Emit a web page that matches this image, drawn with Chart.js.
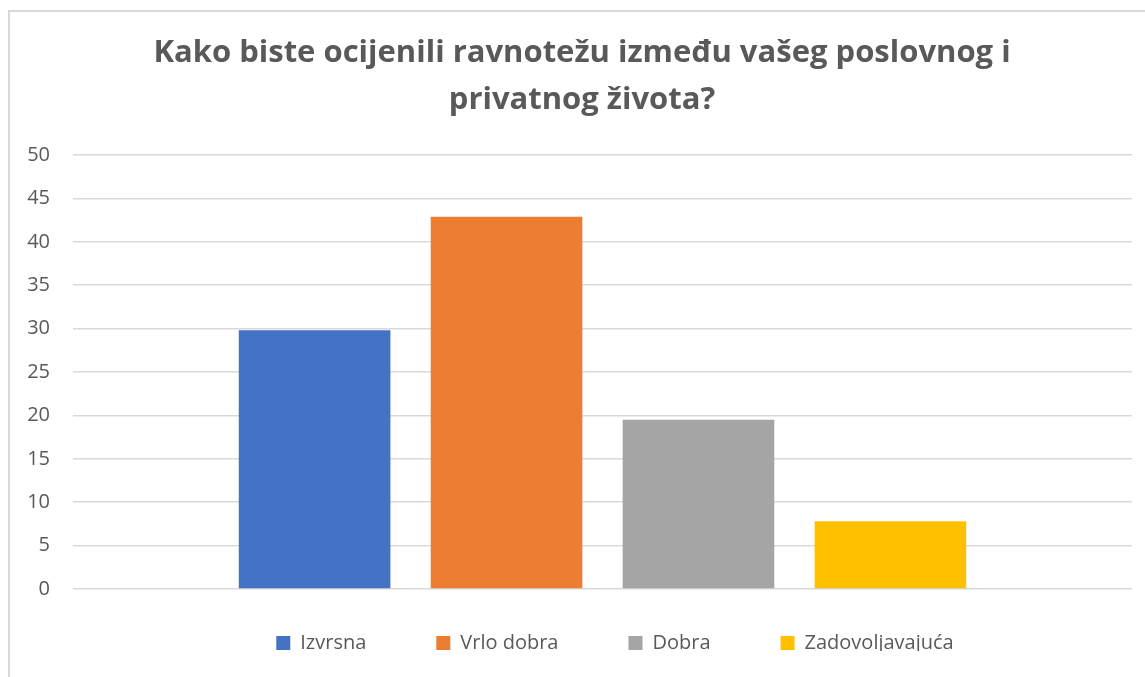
<!DOCTYPE html>
<html lang="hr">
<head>
<meta charset="utf-8">
<style>
    body { margin: 0; background: #ffffff; }
    #frame { position: absolute; left: 8px; top: 10px; width: 1160px; height: 700px; border: 2px solid #d9d9d9; }
    #wrap { position: absolute; left: 0; top: 0; width: 1145px; height: 677px; }
</style>
</head>
<body>
<div id="frame"></div>
<div id="wrap">
    <canvas id="myChart"></canvas>
</div>
<script src="https://cdn.jsdelivr.net/npm/chart.js"></script>
<script>
    // podaci sa slike (postotci)
    const categories = [''];
    const seriesNames = ['Izvrsna', 'Vrlo dobra', 'Dobra', 'Zadovoljavajuća'];
    const izvrsna = [29.8];
    const vrloDobra = [42.9];
    const dobra = [19.5];
    const zadovoljavajuca = [7.8];
    const yTicks = [0, 5, 10, 15, 20, 25, 30, 35, 40, 45, 50];

    const seriesValues = [izvrsna, vrloDobra, dobra, zadovoljavajuca];
    const colors = ['#4472c4', '#ed7d31', '#a5a5a5', '#ffc000'];
    const textColor = '#595959';

    // legenda - razmak izmedju stavki veci nego vertikalni pomak, i malo udesno
    // naslov isto malo udesno (kao u excelu)
    const layoutNudge = {
        id: 'layoutNudge',
        afterInit(chart) {
            const legend = chart.legend;
            const fit = legend.fit;
            legend.fit = function () {
                fit.call(this);
                this.height = 88;
            };
        },
        afterLayout(chart) {
            chart.legend.top -= 26;
            chart.legend.bottom -= 26;
            chart.legend.left += 49;
            chart.legend.right += 49;
            chart.titleBlock.left += 16;
            chart.titleBlock.right += 16;
        }
    };

    const datasets = seriesNames.map(function (name, i) {
        return {
            label: name,
            data: seriesValues[i],
            backgroundColor: colors[i],
            borderWidth: 0,
            categoryPercentage: 0.725,
            barPercentage: 0.79
        };
    });

    new Chart(document.getElementById('myChart'), {
        type: 'bar',
        data: {
            labels: categories,
            datasets: datasets
        },
        plugins: [layoutNudge],
        options: {
            responsive: true,
            maintainAspectRatio: false,
            animation: false,
            layout: {
                padding: { left: 0, right: 13, top: 0, bottom: 0 }
            },
            plugins: {
                title: {
                    display: true,
                    text: ['Kako biste ocijenili ravnotežu između vašeg poslovnog i', 'privatnog života?'],
                    color: textColor,
                    font: { family: 'Open Sans', size: 31, weight: 'bold', lineHeight: 1.5 },
                    padding: { top: 30, bottom: 32 }
                },
                legend: {
                    position: 'bottom',
                    labels: {
                        color: textColor,
                        font: { family: 'Open Sans', size: 20 },
                        boxWidth: 14,
                        boxHeight: 14,
                        padding: 70
                    }
                },
                tooltip: { enabled: false }
            },
            scales: {
                x: {
                    display: false
                },
                y: {
                    min: 0,
                    max: 50,
                    afterFit: function (scale) { scale.width = 73; },
                    afterBuildTicks: function (scale) {
                        scale.ticks = yTicks.map(function (v) { return { value: v }; });
                    },
                    ticks: {
                        color: textColor,
                        font: { family: 'Open Sans', size: 20 },
                        padding: 23
                    },
                    grid: {
                        color: '#d9d9d9',
                        lineWidth: 1.5,
                        drawTicks: false
                    },
                    border: { display: false }
                }
            }
        }
    });
</script>
</body>
</html>
